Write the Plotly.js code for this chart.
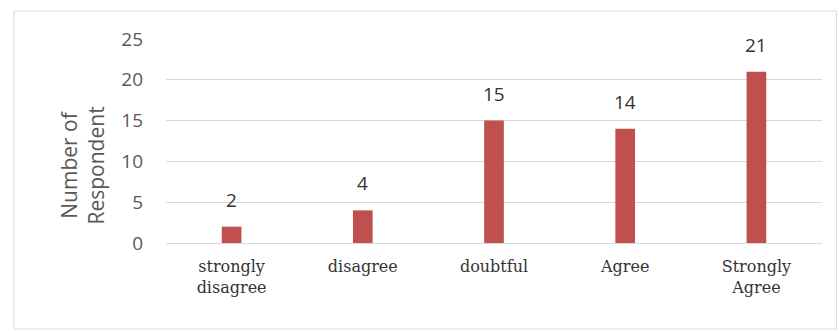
<!DOCTYPE html>
<html>
<head>
<meta charset="utf-8">
<script src="https://cdn.plot.ly/plotly-3.0.1.min.js"></script>
<style>html,body{margin:0;padding:0;background:#fff;}#chart{width:839px;height:331px;}</style>
</head>
<body>
<div id="chart"></div>
<script>
const categories = ["strongly<br>disagree", "disagree", "doubtful", "Agree", "Strongly<br>Agree"];
const respondents = [2, 4, 15, 14, 21];
const yTicks = [0, 5, 10, 15, 20, 25];
const yTitle = 'Number of<br>Respondent';

const trace = {
  type: 'bar',
  x: categories,
  y: respondents,
  marker: {color: '#c0504d'},
  hoverinfo: 'x+y'
};

const annotations = categories.map((c, i) => ({
  x: c, y: respondents[i], xref: 'x', yref: 'y',
  text: String(respondents[i]), showarrow: false,
  yanchor: 'bottom', yshift: 12,
  font: {family: 'Open Sans, sans-serif', size: 19, color: '#333333'}
}));
annotations.push({
  xref: 'paper', yref: 'paper', x: -0.128, y: 0.38,
  xanchor: 'center', yanchor: 'middle',
  text: yTitle, textangle: -90, showarrow: false,
  font: {family: 'Open Sans, sans-serif', size: 21, color: '#595959'}
});

const layout = {
  width: 839, height: 331,
  margin: {l: 166, r: 17, t: 39, b: 88},
  paper_bgcolor: '#ffffff', plot_bgcolor: '#ffffff',
  bargap: 0.85,
  showlegend: false,
  xaxis: {
    type: 'category',
    showgrid: false, zeroline: false, showline: false,
    ticks: '',
    ticklabelstandoff: 12,
    tickfont: {family: 'DejaVu Serif, serif', size: 16, color: '#333333'}
  },
  yaxis: {
    range: [0, 25],
    tickvals: yTicks,
    showgrid: true, gridcolor: '#d9d9d9', gridwidth: 1,
    zeroline: true, zerolinecolor: '#d9d9d9', zerolinewidth: 1,
    showline: false, ticks: '',
    ticklabelstandoff: 22,
    tickfont: {family: 'Open Sans, sans-serif', size: 19, color: '#595959'}
  },
  annotations: annotations,
  shapes: [{
    type: 'rect', xref: 'paper', yref: 'paper',
    x0: -0.2317, x1: 1.022, y0: -0.4216, y1: 1.137,
    line: {color: '#d9d9d9', width: 1}
  }]
};

Plotly.newPlot('chart', [trace], layout, {displayModeBar: false, staticPlot: true});
</script>
</body>
</html>
